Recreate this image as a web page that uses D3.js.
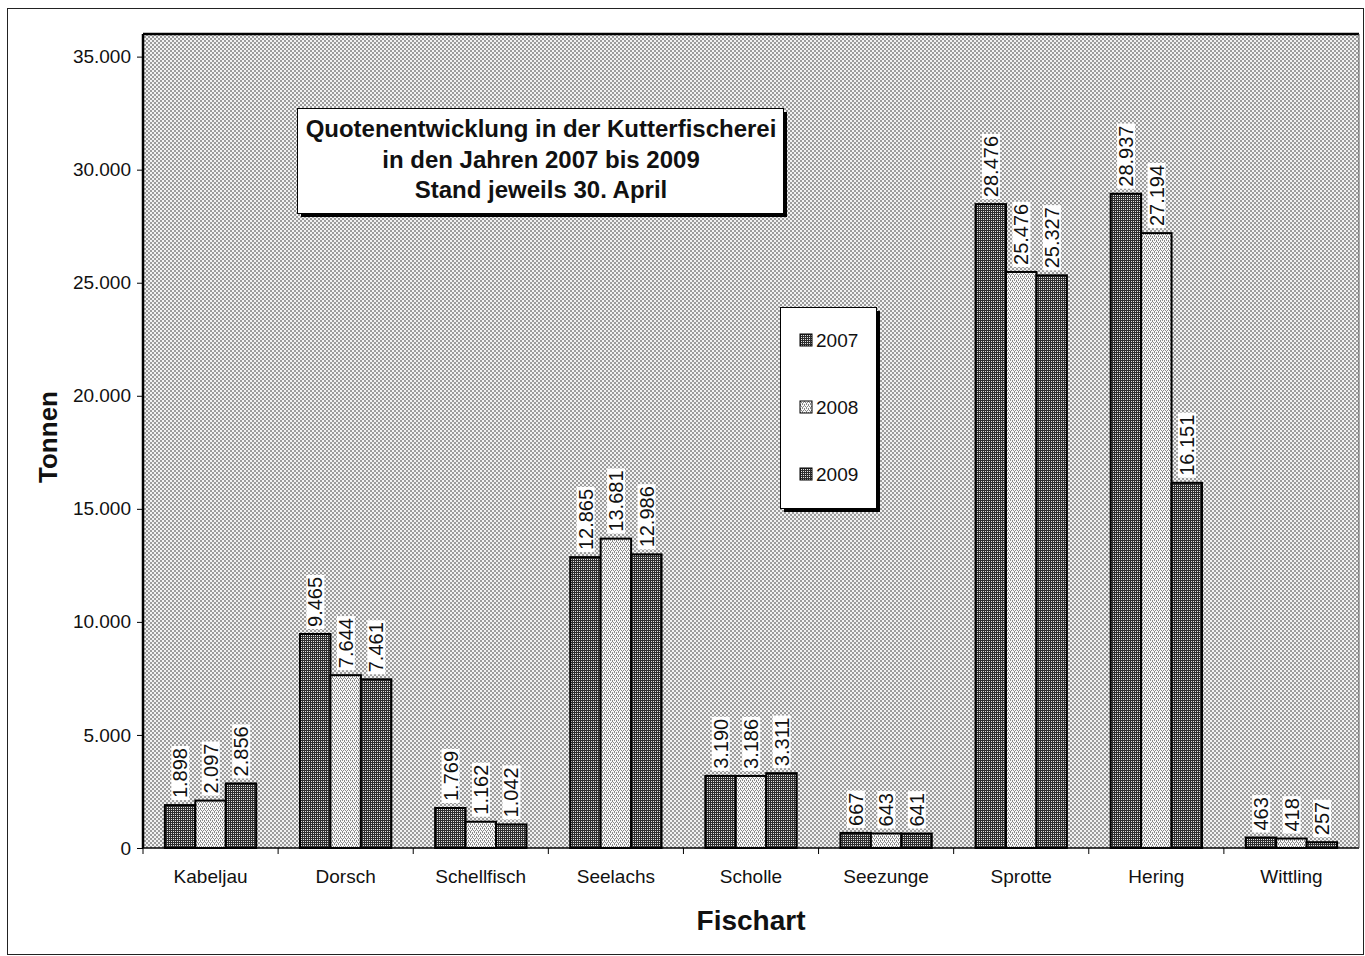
<!DOCTYPE html>
<html><head><meta charset="utf-8">
<script src="https://cdn.jsdelivr.net/npm/d3@7"></script>
<style>body{margin:0;background:#fff}text{font-family:"Liberation Sans",Arial,sans-serif}</style>
</head><body>
<svg id="c" width="1365" height="956"></svg>
<script>
const categories = ["Kabeljau","Dorsch","Schellfisch","Seelachs","Scholle","Seezunge","Sprotte","Hering","Wittling"];
const years = ["2007","2008","2009"];
const v2007 = [1898, 9465, 1769, 12865, 3190, 667, 28476, 28937, 463];
const v2008 = [2097, 7644, 1162, 13681, 3186, 643, 25476, 27194, 418];
const v2009 = [2856, 7461, 1042, 12986, 3311, 641, 25327, 16151, 257];
const yTicks = [0,5000,10000,15000,20000,25000,30000,35000];
const titleLines = ["Quotenentwicklung in der Kutterfischerei","in den Jahren 2007 bis 2009","Stand jeweils 30. April"];

const series = [v2007, v2008, v2009];
const fmt = v => d3.format(",")(v).replace(/,/g, ".");
const FF = '"Liberation Sans",Arial,sans-serif';

const svg = d3.select("#c");
const defs = svg.append("defs");
function pat(id, bg, fg, dots, size) {
  const p = defs.append("pattern").attr("id", id).attr("width", size).attr("height", size).attr("patternUnits", "userSpaceOnUse");
  p.append("rect").attr("width", size).attr("height", size).attr("fill", bg);
  dots.forEach(d => p.append("rect").attr("x", d[0]).attr("y", d[1]).attr("width", d[2]).attr("height", d[2]).attr("fill", fg));
}
pat("pBg", "#f2f2f2", "#9c9c9c", [[0,0,2],[2,2,2]], 4);
pat("pDark", "#2e2e2e", "#e0e0e0", [[1,1,1],[3,3,1],[1,3,1],[3,1,1]], 4);
pat("pLight", "#f8f8f8", "#8a8a8a", [[0,0,1],[2,0,1],[1,2,1],[3,2,1],[0,1,1],[2,3,1]], 4);
const fills = ["url(#pDark)", "url(#pLight)", "url(#pDark)"];

const L = 143, R = 1359, T = 34, B = 848;
const x = d3.scaleBand().domain(categories).range([L, R]);
const bw = x.bandwidth();
const x1 = d3.scaleBand().domain(years).range([bw * 0.162, bw * 0.838]);
const y = d3.scaleLinear().domain([0, 36000]).range([B, T]);

// outer frame
svg.append("rect").attr("x", 7.5).attr("y", 8.5).attr("width", 1356).attr("height", 946).attr("fill", "none").attr("stroke", "#222").attr("stroke-width", 1);

// plot bg
svg.append("rect").attr("x", L).attr("y", T).attr("width", R - L).attr("height", B - T).attr("fill", "url(#pBg)");

// bars
const g = svg.append("g");
categories.forEach((c, i) => {
  years.forEach((yr, j) => {
    const v = series[j][i];
    const bx = x(c) + x1(yr);
    g.append("rect").attr("x", bx).attr("y", y(v)).attr("width", x1.bandwidth()).attr("height", B - y(v))
      .attr("fill", fills[j]).attr("stroke", "#000").attr("stroke-width", 2);
  });
});
// labels
categories.forEach((c, i) => {
  years.forEach((yr, j) => {
    const v = series[j][i];
    const cx = x(c) + x1(yr) + x1.bandwidth() / 2;
    const by = y(v) - 5;
    const lg = svg.append("g").attr("transform", `translate(${cx},${by}) rotate(-90)`);
    const t = lg.append("text").attr("x", 2).attr("y", 0).attr("dy", "0.36em").attr("font-size", 20).attr("fill", "#111").text(fmt(v));
    const bb = t.node().getBBox();
    lg.insert("rect", "text").attr("x", bb.x - 2).attr("y", bb.y + 2).attr("width", bb.width + 4).attr("height", bb.height - 4).attr("fill", "#fff");
  });
});

// axes
const yAxis = d3.axisLeft(y).tickValues(yTicks).tickSize(6).tickPadding(6).tickFormat(fmt);
const ya = svg.append("g").attr("transform", `translate(${L},0)`).call(yAxis);
ya.select(".domain").remove();
ya.selectAll("text").attr("font-size", 19).attr("fill", "#111").style("font-family", FF);
ya.selectAll("line").attr("stroke", "#000");

const xa = svg.append("g").attr("transform", `translate(0,${B})`).call(d3.axisBottom(x).tickSize(0).tickPadding(22));
xa.select(".domain").remove();
xa.selectAll("text").attr("font-size", 19).attr("fill", "#111").style("font-family", FF);
// category boundary ticks
svg.append("g").selectAll("line").data(categories.slice(1)).join("line")
  .attr("x1", d => x(d)).attr("x2", d => x(d)).attr("y1", B).attr("y2", B + 6).attr("stroke", "#000");
svg.append("line").attr("x1", L).attr("x2", L).attr("y1", B).attr("y2", B + 6).attr("stroke", "#000");

// plot frame
svg.append("line").attr("x1", L).attr("x2", L).attr("y1", T).attr("y2", B).attr("stroke", "#000").attr("stroke-width", 2.5);
svg.append("line").attr("x1", L).attr("x2", R).attr("y1", T).attr("y2", T).attr("stroke", "#000").attr("stroke-width", 2.5);
svg.append("line").attr("x1", L).attr("x2", R).attr("y1", B).attr("y2", B).attr("stroke", "#000").attr("stroke-width", 1.5);
svg.append("line").attr("x1", R).attr("x2", R).attr("y1", T).attr("y2", B).attr("stroke", "#555").attr("stroke-width", 1);

// axis titles
svg.append("text").attr("transform", "translate(57,437) rotate(-90)").attr("text-anchor", "middle").attr("font-size", 26).attr("font-weight", "bold").attr("fill", "#111").text("Tonnen");
svg.append("text").attr("x", 751).attr("y", 930).attr("text-anchor", "middle").attr("font-size", 28).attr("font-weight", "bold").attr("fill", "#111").text("Fischart");

// title box
svg.append("rect").attr("x", 301).attr("y", 112).attr("width", 486).attr("height", 105).attr("fill", "#000");
svg.append("rect").attr("x", 297.5).attr("y", 108.5).attr("width", 486).attr("height", 105).attr("fill", "#fff").attr("stroke", "#000").attr("stroke-width", 1);
titleLines.forEach((t, i) => {
  svg.append("text").attr("x", 541).attr("y", 137 + i * 30.5).attr("text-anchor", "middle").attr("font-size", 24).attr("font-weight", "bold").attr("fill", "#111").text(t);
});

// legend
svg.append("rect").attr("x", 784).attr("y", 311).attr("width", 96).attr("height", 201).attr("fill", "#000");
svg.append("rect").attr("x", 780.5).attr("y", 307.5).attr("width", 96).attr("height", 201).attr("fill", "#fff").attr("stroke", "#000").attr("stroke-width", 1);
years.forEach((yr, j) => {
  const cy = 340 + j * 67;
  svg.append("rect").attr("x", 800).attr("y", cy - 6).attr("width", 12).attr("height", 12).attr("fill", fills[j]).attr("stroke", "#000").attr("stroke-width", 1);
  svg.append("text").attr("x", 816).attr("y", cy).attr("dy", "0.36em").attr("font-size", 19).attr("fill", "#111").text(yr);
});
</script>
</body></html>
